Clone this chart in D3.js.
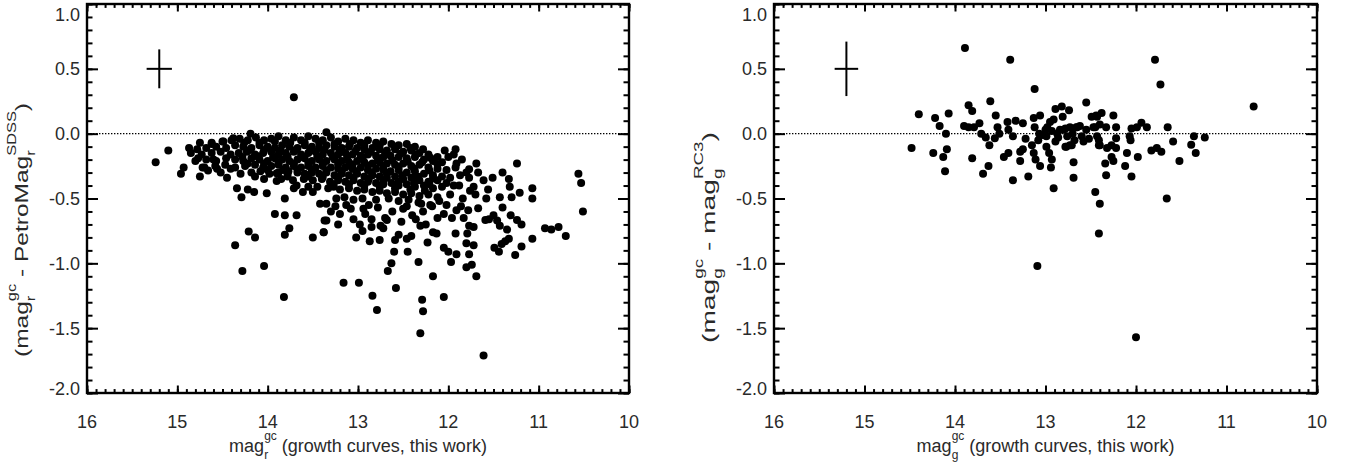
<!DOCTYPE html>
<html><head><meta charset="utf-8">
<script src="https://cdn.jsdelivr.net/npm/d3@7/dist/d3.min.js"></script>
<style>
html,body{margin:0;padding:0;background:#fff;}
svg text{font-family:"Liberation Sans",Arial,Helvetica,sans-serif;fill:#2a2a2a;white-space:pre;}
</style></head>
<body><svg id="c" width="1348" height="465"></svg>
<script>
// ---------------- data ----------------
const xTicks = [16, 15, 14, 13, 12, 11, 10];
const yTicks = [1.0, 0.5, 0.0, -0.5, -1.0, -1.5, -2.0];
const xDomain = [16, 10];
const yDomain = [-2, 1];

// left panel: mag_r^gc vs (mag_r^gc - PetroMag_r^SDSS)  — sparse/outlying points
const leftSparse = [
[13.71,0.28],[15.24,-0.22],[15.10,-0.13],[14.93,-0.26],[14.96,-0.31],[14.87,-0.11],[14.75,-0.07],[14.77,-0.19],
[14.72,-0.26],[14.75,-0.33],[14.62,-0.07],[14.60,-0.20],[14.66,-0.285],[14.56,-0.27],[14.49,-0.06],[14.45,-0.34],
[14.41,-0.27],[14.38,-0.035],[14.34,-0.42],[14.29,-0.49],[14.22,-0.43],[14.15,-0.45],[14.19,0.0],[14.01,-0.46],
[13.81,-0.50],[13.92,-0.62],[13.81,-0.63],[13.68,-0.63],[14.21,-0.755],[14.14,-0.80],[13.76,-0.73],[13.81,-0.78],
[14.36,-0.86],[13.50,-0.80],[13.38,-0.76],[13.37,-0.67],[13.42,-0.54],[14.28,-1.06],[14.04,-1.02],[13.82,-1.26],
[13.90,-0.365],[13.71,-0.42],[13.61,-0.45],[13.55,-0.41],[13.50,-0.45],[13.68,-0.40],[13.77,-0.29],[13.90,-0.305],
[14.04,-0.35],[14.14,-0.33],
[13.35,0.01],[13.27,-0.41],[13.24,-0.50],[13.35,-0.54],[13.25,-0.56],[13.35,-0.67],[13.38,-0.76],[13.22,-0.70],
[13.13,-0.55],[13.05,-0.51],[12.94,-0.58],[13.02,-0.80],[12.95,-0.75],[12.87,-0.83],[12.85,-0.72],[12.76,-0.82],
[12.75,-0.71],[12.68,-0.665],[12.60,-0.91],[12.63,-1.00],[12.67,-1.06],[12.55,-0.78],[12.59,-0.82],[12.46,-0.81],
[12.45,-0.91],[12.41,-0.79],[12.31,-0.71],[12.33,-0.99],[12.23,-0.84],[12.17,-0.76],[12.13,-0.77],[12.17,-1.10],
[13.16,-1.15],[12.99,-1.15],[12.58,-1.19],[12.84,-1.25],[12.79,-1.36],[12.29,-1.28],[12.28,-1.37],[12.05,-1.26],
[12.31,-1.54],[11.61,-1.71],[11.92,-0.77],[12.05,-0.88],[12.00,-0.91],[11.91,-0.93],[11.97,-0.99],[11.80,-0.845],
[11.72,-0.86],[11.79,-0.77],[11.77,-0.93],[11.80,-1.03],[11.74,-1.01],[11.69,-1.10],[11.77,-0.71],[11.72,-0.72],
[11.24,-0.23],[11.40,-0.30],[11.33,-0.35],[11.32,-0.41],[11.30,-0.49],[11.21,-0.455],[11.07,-0.42],[11.07,-0.50],
[10.56,-0.31],[10.53,-0.38],[10.51,-0.60],[10.93,-0.73],[10.86,-0.74],[10.78,-0.72],[10.70,-0.79],[11.07,-0.81],
[11.19,-0.87],[11.26,-0.935],[11.33,-0.81],[11.37,-0.83],[11.41,-0.85],[11.44,-0.91],[11.49,-0.88],[11.35,-0.74],
[11.43,-0.71],[11.46,-0.67],[11.19,-0.70],[11.24,-0.665],[11.31,-0.63],[11.40,-0.57],[11.43,-0.49],[11.50,-0.63],
[11.55,-0.66],[11.59,-0.665],[11.51,-0.34],[11.56,-0.43],[11.61,-0.36],[11.67,-0.30],[11.69,-0.23],[11.77,-0.275],
[11.77,-0.34],[11.58,-0.50],[11.67,-0.575],[11.72,-0.41],[11.70,-0.47],[11.78,-0.59],[11.83,-0.65],[11.91,-0.59],
[11.96,-0.65],[12.04,-0.13],[11.94,-0.16],[11.91,-0.23],[11.87,-0.32],[11.94,-0.40],
[13.20,-0.62],[13.05,-0.66],[12.88,-0.55],[12.72,-0.73],[12.52,-0.68],[12.36,-0.66],[12.25,-0.70],[12.12,-0.65],
[12.46,-0.56],[12.30,-0.54],[13.30,-0.60],[12.98,-0.70]
];

// left panel: dense core of the distribution
const leftCore = [
[14.62,-0.08],[14.50,-0.06],[14.40,-0.05],[14.31,-0.04],[14.22,-0.05],[14.13,-0.03],[14.04,-0.05],[13.96,-0.04],
[13.88,-0.02],[13.80,-0.05],[13.71,-0.03],[13.63,-0.05],[13.55,-0.02],[13.47,-0.04],[13.39,-0.05],[13.30,-0.03],
[13.22,-0.06],[13.14,-0.04],[13.05,-0.05],[12.97,-0.07],[12.89,-0.05],[12.80,-0.07],[12.72,-0.06],[12.63,-0.08],
[12.55,-0.09],[12.46,-0.08],[12.37,-0.10],[12.28,-0.12],
[14.78,-0.12],[14.68,-0.11],[14.57,-0.10],[14.46,-0.11],[14.36,-0.09],[14.27,-0.10],[14.18,-0.11],[14.09,-0.09],
[14.00,-0.10],[13.92,-0.11],[13.84,-0.09],[13.76,-0.10],[13.67,-0.11],[13.59,-0.09],[13.51,-0.10],[13.43,-0.11],
[13.35,-0.09],[13.26,-0.10],[13.18,-0.11],[13.10,-0.10],[13.01,-0.11],[12.93,-0.12],[12.84,-0.11],[12.76,-0.12],
[12.68,-0.13],[12.59,-0.12],[12.50,-0.14],[12.41,-0.13],[12.32,-0.15],[12.22,-0.16],[12.12,-0.18],
[14.85,-0.15],[14.73,-0.16],[14.62,-0.15],[14.52,-0.14],[14.41,-0.16],[14.32,-0.15],[14.23,-0.14],[14.14,-0.16],
[14.05,-0.15],[13.96,-0.14],[13.88,-0.16],[13.80,-0.15],[13.71,-0.14],[13.63,-0.16],[13.55,-0.15],[13.47,-0.14],
[13.39,-0.16],[13.30,-0.15],[13.22,-0.16],[13.14,-0.15],[13.06,-0.16],[12.97,-0.17],[12.89,-0.16],[12.80,-0.17],
[12.72,-0.18],[12.64,-0.17],[12.55,-0.18],[12.46,-0.19],[12.37,-0.18],[12.27,-0.20],[12.17,-0.21],[12.07,-0.22],
[14.80,-0.21],[14.68,-0.20],[14.57,-0.21],[14.46,-0.19],[14.36,-0.20],[14.27,-0.21],[14.18,-0.19],[14.09,-0.20],
[14.00,-0.21],[13.92,-0.19],[13.84,-0.20],[13.76,-0.21],[13.67,-0.20],[13.59,-0.19],[13.51,-0.21],[13.43,-0.20],
[13.35,-0.21],[13.26,-0.20],[13.18,-0.21],[13.10,-0.22],[13.01,-0.21],[12.93,-0.22],[12.84,-0.23],[12.76,-0.22],
[12.68,-0.23],[12.59,-0.24],[12.50,-0.23],[12.41,-0.25],[12.32,-0.24],[12.22,-0.26],[12.12,-0.27],[12.02,-0.28],
[14.70,-0.26],[14.58,-0.25],[14.47,-0.24],[14.36,-0.26],[14.25,-0.25],[14.14,-0.24],[14.05,-0.26],[13.96,-0.25],
[13.88,-0.24],[13.80,-0.26],[13.71,-0.25],[13.63,-0.26],[13.55,-0.25],[13.47,-0.26],[13.39,-0.25],[13.30,-0.26],
[13.22,-0.27],[13.14,-0.26],[13.06,-0.27],[12.97,-0.26],[12.89,-0.28],[12.80,-0.27],[12.72,-0.28],[12.64,-0.29],
[12.55,-0.28],[12.46,-0.30],[12.37,-0.29],[12.27,-0.31],[12.17,-0.32],[12.07,-0.33],
[14.52,-0.30],[14.30,-0.31],[14.18,-0.30],[14.08,-0.29],[13.98,-0.31],[13.88,-0.30],[13.78,-0.31],[13.67,-0.30],
[13.59,-0.31],[13.51,-0.30],[13.43,-0.31],[13.35,-0.30],[13.26,-0.32],[13.18,-0.31],[13.10,-0.32],[13.01,-0.31],
[12.93,-0.33],[12.84,-0.32],[12.76,-0.33],[12.68,-0.34],[12.59,-0.33],[12.50,-0.35],[12.41,-0.34],[12.32,-0.36],
[12.22,-0.37],[12.12,-0.36],[12.02,-0.38],
[13.85,-0.35],[13.72,-0.36],[13.60,-0.35],[13.50,-0.36],[13.40,-0.35],[13.31,-0.37],[13.22,-0.36],[13.14,-0.37],
[13.05,-0.36],[12.97,-0.38],[12.89,-0.37],[12.80,-0.38],[12.72,-0.39],[12.63,-0.38],[12.55,-0.40],[12.46,-0.39],
[12.37,-0.41],[12.27,-0.40],[12.17,-0.42],[12.07,-0.41],
[13.45,-0.41],[13.33,-0.42],[13.20,-0.43],[13.10,-0.42],[13.01,-0.44],[12.93,-0.43],[12.84,-0.45],[12.76,-0.44],
[12.68,-0.46],[12.59,-0.45],[12.50,-0.47],[12.41,-0.46],[12.32,-0.48],[12.22,-0.47],[12.12,-0.49],
[13.15,-0.49],[12.95,-0.50],[12.80,-0.51],[12.66,-0.50],[12.55,-0.52],[12.44,-0.51],[12.33,-0.53],[12.20,-0.55],[12.10,-0.52],
[13.08,-0.58],[12.92,-0.62],[12.78,-0.57],[12.62,-0.60],[12.50,-0.58],[12.40,-0.63],[12.28,-0.60],[12.18,-0.56],
[12.05,-0.62],[12.70,-0.65],[12.85,-0.66],
[12.00,-0.18],[11.92,-0.26],[11.98,-0.34],[11.88,-0.40],[11.98,-0.47],[11.84,-0.50],[11.92,-0.12],[11.85,-0.20],
[11.80,-0.30],[11.76,-0.44],[11.86,-0.56],[12.02,-0.55],
// in-between fill of the densest part
[14.26,-0.07],[14.09,-0.07],[13.92,-0.06],[13.75,-0.07],[13.59,-0.07],[13.43,-0.07],[13.26,-0.08],[13.09,-0.08],
[12.93,-0.09],[12.76,-0.09],[12.59,-0.10],[12.42,-0.11],
[14.20,-0.125],[14.04,-0.125],[13.86,-0.13],[13.69,-0.125],[13.53,-0.13],[13.37,-0.125],[13.20,-0.13],[13.03,-0.135],
[12.86,-0.14],[12.70,-0.145],[12.53,-0.155],[12.36,-0.16],[12.20,-0.185],
[14.28,-0.18],[14.11,-0.175],[13.94,-0.18],[13.78,-0.175],[13.61,-0.18],[13.45,-0.175],[13.28,-0.18],[13.12,-0.185],
[12.95,-0.19],[12.78,-0.195],[12.62,-0.205],[12.45,-0.215],[12.29,-0.22],[12.12,-0.235],
[14.22,-0.23],[14.04,-0.23],[13.88,-0.225],[13.71,-0.23],[13.55,-0.225],[13.39,-0.23],[13.22,-0.235],[13.06,-0.24],
[12.89,-0.245],[12.72,-0.25],[12.55,-0.255],[12.38,-0.27],[12.21,-0.285],
[14.00,-0.28],[13.83,-0.28],[13.67,-0.28],[13.51,-0.28],[13.35,-0.285],[13.18,-0.29],[13.02,-0.29],[12.85,-0.30],
[12.68,-0.31],[12.51,-0.32],[12.34,-0.33],[12.17,-0.345],
[13.78,-0.33],[13.55,-0.33],[13.39,-0.335],[13.22,-0.34],[13.05,-0.34],[12.88,-0.35],[12.72,-0.36],[12.55,-0.37],
[12.38,-0.38],[12.21,-0.39],
[13.27,-0.39],[13.10,-0.39],[12.93,-0.40],[12.76,-0.41],[12.59,-0.42],[12.42,-0.43],[12.26,-0.44]
];

// right panel: mag_g^gc vs (mag_g^gc - mag_g^RC3)
const rightPoints = [
[13.89,0.66],[13.39,0.57],[13.12,0.345],[13.85,0.22],[13.81,0.175],[13.61,0.25],[14.40,0.15],[14.22,0.12],
[14.07,0.155],[14.17,0.06],[14.10,0.0],[14.48,-0.11],[14.24,-0.15],[14.09,-0.12],[14.13,-0.18],[14.11,-0.29],
[13.90,0.06],[13.85,0.05],[13.73,0.08],[13.79,0.05],[13.71,0.0],[13.66,-0.03],[13.62,-0.09],[13.55,0.14],
[13.53,0.05],[13.56,-0.035],[13.51,0.0],[13.81,-0.19],[13.63,-0.25],[13.69,-0.31],[13.42,0.09],[13.33,0.10],
[13.25,0.08],[13.41,0.03],[13.36,-0.02],[13.22,-0.04],[13.46,-0.18],[13.41,-0.15],[13.28,-0.14],[13.25,-0.12],
[13.28,-0.21],[13.36,-0.36],[13.19,-0.33],[13.13,0.12],[13.06,0.14],[13.12,0.05],[13.07,0.0],[13.08,-0.05],
[13.00,0.03],[12.95,0.09],[12.91,0.11],[12.89,0.19],[12.82,0.21],[12.74,0.18],[12.81,0.13],[13.15,-0.09],
[13.13,-0.15],[13.11,-0.20],[13.06,-0.25],[12.99,-0.10],[12.96,-0.15],[12.93,-0.20],[12.94,-0.26],[12.91,-0.42],
[12.99,-0.02],[12.89,-0.06],[12.84,0.03],[12.78,0.04],[12.73,0.05],[12.66,0.05],[12.76,-0.02],[12.78,-0.10],
[12.71,-0.09],[12.69,-0.22],[12.69,-0.34],[12.60,-0.02],[12.55,0.24],[12.55,0.03],[12.49,0.13],[12.44,0.14],
[12.45,0.05],[12.43,-0.02],[12.41,-0.09],[12.45,-0.45],[12.40,-0.54],[12.41,-0.77],[13.09,-1.02],
[12.80,0.03],[12.73,-0.09],[12.77,-0.10],[12.65,0.05],[12.43,0.13],[12.38,0.16],[12.47,0.05],[12.40,0.07],
[12.33,0.05],[12.25,0.14],[12.22,0.05],[12.41,-0.05],[12.40,-0.09],[12.32,-0.11],[12.27,-0.09],[12.22,-0.11],
[12.22,-0.035],[12.27,-0.18],[12.25,-0.21],[12.34,-0.23],[12.33,-0.32],[12.10,-0.15],[12.12,-0.25],[12.05,-0.33],
[12.07,-0.02],[12.06,-0.05],[12.05,0.04],[11.99,0.05],[11.94,0.085],[11.88,0.05],[11.98,-0.18],[12.00,-1.57],
[11.79,0.57],[11.73,0.38],[11.65,0.05],[11.59,-0.06],[11.83,-0.13],[11.77,-0.11],[11.72,-0.14],[11.52,-0.21],
[11.66,-0.50],[11.36,-0.02],[11.39,-0.085],[11.34,-0.15],[11.24,-0.03],[10.70,0.21],
[12.98,0.05],[12.87,0.0],[12.70,0.0],[12.62,0.06],[12.52,-0.04],[12.58,-0.06],[12.86,-0.03],[12.93,0.02],
[13.03,-0.01],[12.68,-0.05]
];

// typical error bars (cross) in each panel: [x, y, xerr, yerr]
const leftErr = [15.2, 0.5, 0.14, 0.15];
const rightErr = [15.2, 0.5, 0.13, 0.21];

// ---------------- drawing ----------------
const svg = d3.select("#c");
const TOP = 4, BOTTOM = 393;

function drawLabel(parent, parts, o) {
  const outer = parent.append("g");
  const inner = outer.append("g");
  let cx = 0;
  parts.forEach(p => {
    if (typeof p === "string") {
      const t = inner.append("text").attr("x", cx).attr("y", 0).attr("font-size", o.size).text(p);
      cx += t.node().getComputedTextLength();
    } else {
      const a = inner.append("text").attr("x", cx).attr("y", o.supY).attr("font-size", o.small).text(p.sup);
      const b = inner.append("text").attr("x", cx).attr("y", o.subY).attr("font-size", o.small).text(p.sub);
      cx += Math.max(a.node().getComputedTextLength(), b.node().getComputedTextLength());
    }
  });
  inner.attr("transform", `translate(${-cx / 2},0)`);
  const sx = o.fit ? o.fit / cx : 1;
  outer.attr("transform", `translate(${o.x},${o.y}) rotate(${o.rotate || 0}) scale(${sx},1)`);
}

function panel(cfg) {
  const x = d3.scaleLinear().domain(xDomain).range([cfg.x0, cfg.x1]);
  const y = d3.scaleLinear().domain(yDomain).range([BOTTOM, TOP]);
  const g = svg.append("g");

  // zero line (dotted)
  g.append("line").attr("x1", cfg.x0).attr("x2", cfg.x1).attr("y1", y(0)).attr("y2", y(0))
    .attr("stroke", "#000").attr("stroke-width", 1.4).attr("stroke-dasharray", "1.4,1.6");

  // points
  g.append("g").selectAll("circle").data(cfg.points).join("circle")
    .attr("cx", d => x(d[0])).attr("cy", d => y(d[1])).attr("r", 4.0).attr("fill", "#000");

  // error cross
  const e = cfg.err;
  g.append("line").attr("x1", x(e[0] + e[2])).attr("x2", x(e[0] - e[2])).attr("y1", y(e[1])).attr("y2", y(e[1]))
    .attr("stroke", "#000").attr("stroke-width", 2);
  g.append("line").attr("x1", x(e[0])).attr("x2", x(e[0])).attr("y1", y(e[1] + e[3])).attr("y2", y(e[1] - e[3]))
    .attr("stroke", "#000").attr("stroke-width", 2);

  // ticks (inward, all four sides)
  const minorX = d3.range(100, 161).map(v => v / 10);
  const minorY = d3.range(-20, 11).map(v => v / 10);
  const tick = (axis, tr, sw) => {
    const a = g.append("g").attr("transform", tr).call(axis);
    a.select(".domain").remove();
    a.selectAll("line").attr("stroke", "#000").attr("stroke-width", sw);
    a.selectAll("text").remove();
  };
  tick(d3.axisBottom(x).tickValues(xTicks).tickSizeInner(-7.5).tickSizeOuter(0), `translate(0,${BOTTOM})`, 2);
  tick(d3.axisBottom(x).tickValues(minorX).tickSizeInner(-3.9).tickSizeOuter(0), `translate(0,${BOTTOM})`, 2);
  tick(d3.axisTop(x).tickValues(xTicks).tickSizeInner(-7.5).tickSizeOuter(0), `translate(0,${TOP})`, 2);
  tick(d3.axisTop(x).tickValues(minorX).tickSizeInner(-3.9).tickSizeOuter(0), `translate(0,${TOP})`, 2);
  tick(d3.axisLeft(y).tickValues(yTicks).tickSizeInner(-11).tickSizeOuter(0), `translate(${cfg.x0},0)`, 2);
  tick(d3.axisLeft(y).tickValues(minorY).tickSizeInner(-5.5).tickSizeOuter(0), `translate(${cfg.x0},0)`, 2);
  tick(d3.axisRight(y).tickValues(yTicks).tickSizeInner(-11).tickSizeOuter(0), `translate(${cfg.x1},0)`, 2);
  tick(d3.axisRight(y).tickValues(minorY).tickSizeInner(-5.5).tickSizeOuter(0), `translate(${cfg.x1},0)`, 2);

  // frame
  g.append("rect").attr("x", cfg.x0).attr("y", TOP).attr("width", cfg.x1 - cfg.x0).attr("height", BOTTOM - TOP)
    .attr("fill", "none").attr("stroke", "#000").attr("stroke-width", 2.4);

  // tick labels
  g.append("g").selectAll("text").data(xTicks).join("text")
    .attr("x", d => x(d)).attr("y", 427.5).attr("text-anchor", "middle").attr("font-size", 18).text(d => d);
  g.append("g").selectAll("text").data(yTicks).join("text")
    .attr("x", cfg.x0 - 7)
    .attr("y", d => y(d) + (d === 1 ? 16.5 : d === -2 ? 1.5 : 6.5))
    .attr("text-anchor", "end").attr("font-size", 18).text(d => d.toFixed(1));

  // axis titles
  drawLabel(g, cfg.xTitle, { x: (cfg.x0 + cfg.x1) / 2, y: 452, size: 18, small: 12, supY: -12, subY: 7 });
  drawLabel(g, cfg.yTitle, { x: cfg.x0 - 59.5, y: cfg.yMid, rotate: -90, fit: cfg.yLen, size: 18, small: 12, supY: -12, subY: 7 });
}

panel({
  x0: 87, x1: 629, points: leftCore.concat(leftSparse), err: leftErr,
  xTitle: ["mag", { sup: "gc", sub: "r" }, " (growth curves, this work)"],
  yTitle: ["(mag", { sup: "gc", sub: "r" }, " - PetroMag", { sup: "SDSS", sub: "r" }, ")"],
  yMid: 230, yLen: 254
});
panel({
  x0: 774, x1: 1317, points: rightPoints, err: rightErr,
  xTitle: ["mag", { sup: "gc", sub: "g" }, " (growth curves, this work)"],
  yTitle: ["(mag", { sup: "gc", sub: "g" }, " - mag", { sup: "RC3", sub: "g" }, ")"],
  yMid: 237.5, yLen: 211
});
</script></body></html>
